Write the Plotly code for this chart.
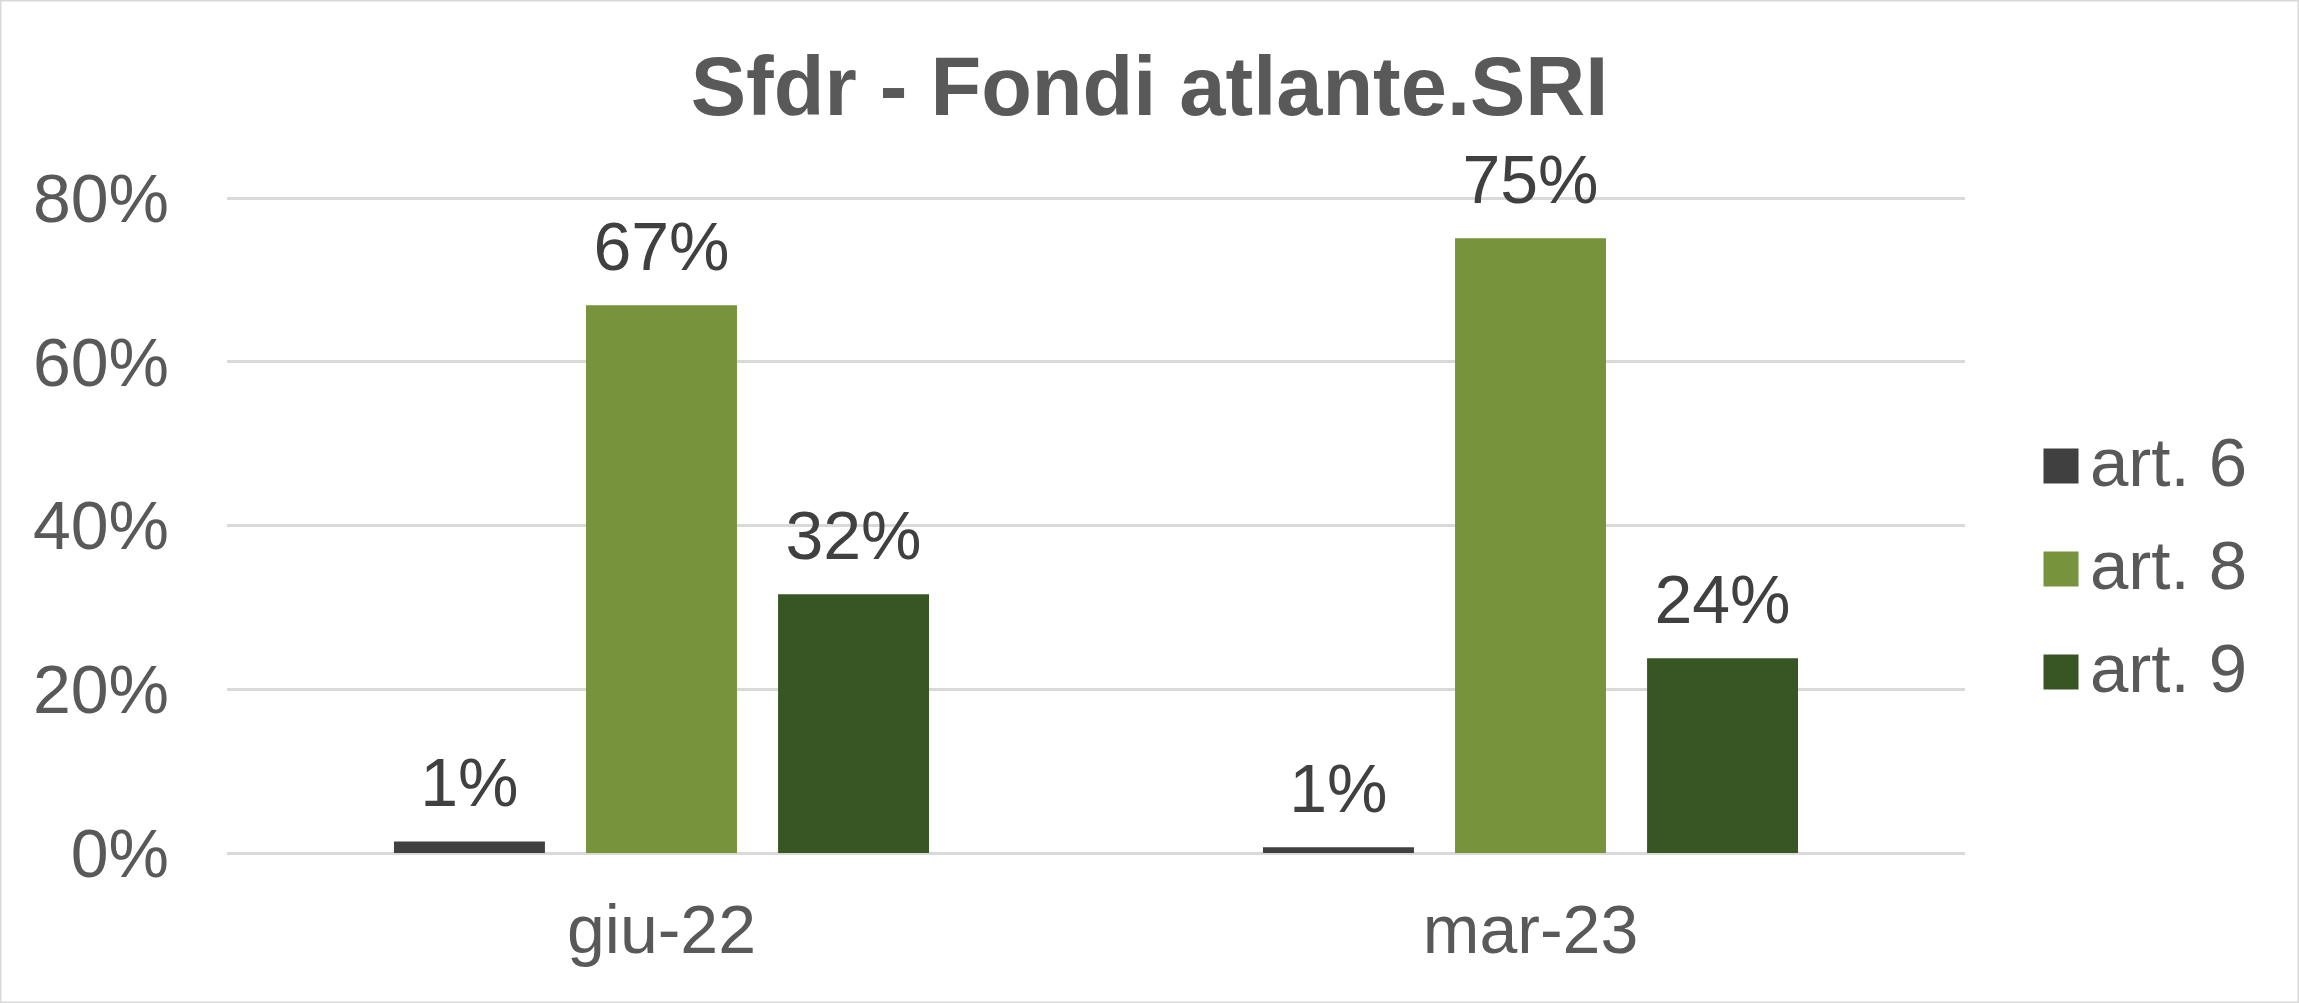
import plotly.graph_objects as go

# data
periods = ["giu-22", "mar-23"]
series_names = ["art. 6", "art. 8", "art. 9"]
art6 = [0.014, 0.007]
art8 = [0.669, 0.751]
art9 = [0.316, 0.238]
colors = ["#404040", "#77933C", "#375623"]

W, H = 2299, 1003
ml, mr, mt, mb = 227, 334, 196, 150
pw, ph = W - ml - mr, H - mt - mb

font = "Arial, Liberation Sans, sans-serif"
gap = 0.337

fig = go.Figure()
for name, vals, col in zip(series_names, [art6, art8, art9], colors):
    fig.add_trace(go.Bar(
        x=periods, y=vals, name=name, marker=dict(color=col, line=dict(width=0)),
        showlegend=False, hoverinfo="skip",
    ))
# value labels, grouped like the bars, lifted a little above each bar
for name, vals in zip(series_names, [art6, art8, art9]):
    fig.add_trace(go.Scatter(
        x=periods, y=vals, mode="markers+text", orientation="v",
        marker=dict(size=28, opacity=0), text=[f"{v:.0%}" for v in vals],
        textposition="top center", cliponaxis=False,
        textfont=dict(family=font, size=68, color="#404040"),
        showlegend=False, hoverinfo="skip",
    ))

# legend drawn by hand so the swatches can match the reference size
shapes = [dict(type="rect", xref="paper", yref="paper", x0=-ml / pw, x1=1 + mr / pw,
               y0=-mb / ph, y1=1 + mt / ph, line=dict(color="#D9D9D9", width=3),
               fillcolor="rgba(0,0,0,0)", layer="below")]
annotations = []
leg_x = (2061 - ml) / pw
for i, (name, col) in enumerate(zip(series_names, colors)):
    yc = 1 - (466 + i * 103 - mt) / ph
    shapes.append(dict(type="rect", xref="paper", yref="paper", xsizemode="pixel",
                       ysizemode="pixel", xanchor=leg_x, yanchor=yc, x0=-17.5, x1=17.5,
                       y0=-17.5, y1=17.5, fillcolor=col, line=dict(width=0)))
    annotations.append(dict(xref="paper", yref="paper", x=(2088 - ml) / pw, y=yc + 4 / ph,
                            text=name, showarrow=False, xanchor="left", yanchor="middle",
                            font=dict(family=font, size=69, color="#595959")))

fig.update_layout(
    width=W, height=H,
    margin=dict(l=ml, r=mr, t=mt, b=mb),
    paper_bgcolor="white", plot_bgcolor="white",
    barmode="group", bargap=gap, bargroupgap=0.214,
    scattermode="group", scattergap=gap,
    title=dict(text="Sfdr - Fondi atlante.SRI", x=0.5, xanchor="center",
               y=1 - 86 / H, yanchor="middle", yref="container",
               font=dict(family=font, size=83, color="#595959", weight="bold")),
    xaxis=dict(showgrid=False, showline=False, zeroline=False, ticks="",
               ticklabelstandoff=31,
               tickfont=dict(family=font, size=68, color="#595959")),
    yaxis=dict(range=[0, 0.8025], tickvals=[0, 0.2, 0.4, 0.6, 0.8], tickformat=".0%",
               showline=False, gridcolor="#D9D9D9", gridwidth=3, zeroline=True,
               zerolinecolor="#D9D9D9", zerolinewidth=3, ticks="",
               ticklabelstandoff=57,
               tickfont=dict(family=font, size=68, color="#595959")),
    shapes=shapes,
    annotations=annotations,
)

# the page body has a default 8px margin; drop it so the figure fills the window
fig.write_html("out.html", config={"displayModeBar": False},
               post_script="document.body.style.margin='0';")
